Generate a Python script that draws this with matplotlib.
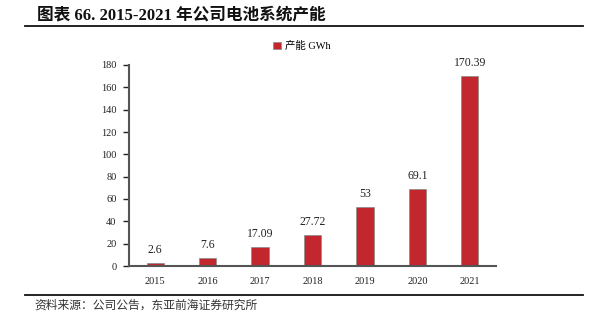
import matplotlib
matplotlib.use('Agg')
import matplotlib.pyplot as plt
from matplotlib.lines import Line2D

plt.rcParams['font.family'] = ['Liberation Serif', 'Noto Sans CJK SC', 'DejaVu Sans']

years = ['2015', '2016', '2017', '2018', '2019', '2020', '2021']
capacity = [2.6, 7.6, 17.09, 27.72, 53, 69.1, 170.39]
labels = ['2.6', '7.6', '17.09', '27.72', '53', '69.1', '170.39']
yticks = [0, 20, 40, 60, 80, 100, 120, 140, 160, 180]

fig = plt.figure(figsize=(6.04, 3.29), dpi=100)
ax = fig.add_axes([129/604, 1-266/329, 367/604, 201/329])

x = range(len(years))
bars = ax.bar(x, capacity, width=0.33, color='#C1272D', edgecolor='#8a8a8a',
              linewidth=0.5, label='产能 GWh')
for xi, v, s in zip(x, capacity, labels):
    ax.text(xi, v + 6, s, ha='center', va='bottom', fontsize=8.5, color='#222222')

ax.set_xlim(-0.5, len(years) - 0.5)
ax.set_ylim(0, 180)
ax.set_yticks(yticks)
ax.set_xticks(list(x))
ax.set_xticklabels(years)
ax.tick_params(axis='x', length=0, labelsize=7.5, pad=8, colors='#222222')
ax.tick_params(axis='y', length=4, width=1, labelsize=7.5, pad=5, colors='#222222',
               direction='out')
for side in ['top', 'right']:
    ax.spines[side].set_visible(False)
for side in ['left', 'bottom']:
    ax.spines[side].set_color('#555555')
    ax.spines[side].set_linewidth(1.5)

leg = fig.legend(handles=[bars], loc='center', bbox_to_anchor=(302/604, 1-46/329),
                 frameon=False, fontsize=7.5, handlelength=0.7, handleheight=0.7,
                 handletextpad=0.4)

# title and rules
fig.text(37/604, 1-15/329, '图表 66. 2015-2021 年公司电池系统产能', fontsize=12,
         fontweight='bold', va='center', ha='left', color='#111111')
fig.add_artist(Line2D([25/604, 583/604], [1-26/329, 1-26/329], color='#111111', lw=1.3))
fig.add_artist(Line2D([25/604, 583/604], [1-295/329, 1-295/329], color='#111111', lw=1.3))
fig.text(34/604, 1-305/329, '资料来源：公司公告，东亚前海证券研究所', fontsize=8.5,
         va='center', ha='left', color='#333333',
         family=['Noto Sans CJK SC', 'DejaVu Sans'])

fig.savefig('out.png', dpi=100)
